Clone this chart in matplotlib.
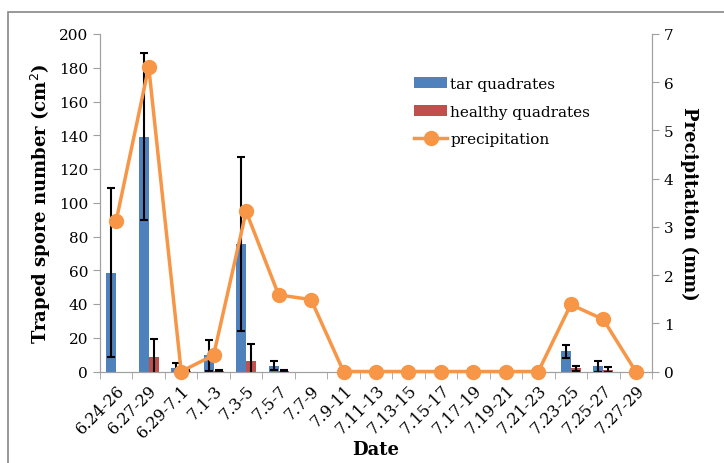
import matplotlib.pyplot as plt
from matplotlib.patches import Rectangle
import numpy as np

dates = ['6.24-26', '6.27-29', '6.29-7.1', '7.1-3', '7.3-5', '7.5-7', '7.7-9',
         '7.9-11', '7.11-13', '7.13-15', '7.15-17', '7.17-19', '7.19-21',
         '7.21-23', '7.23-25', '7.25-27', '7.27-29']
tar = [58.6, 139, 2, 9.5, 75.5, 3.5, 0, 0, 0, 0, 0, 0, 0, 0, 12, 3, 0]
tar_err = [50, 49.5, 3, 9, 51.5, 2.5, 0, 0, 0, 0, 0, 0, 0, 0, 4, 3.5, 0]
healthy = [0, 8.3, 0.3, 0.5, 6.3, 0.5, 0, 0, 0, 0, 0, 0, 0, 0, 2, 1, 0]
healthy_err = [0, 11, 0.3, 0.5, 10, 0.3, 0, 0, 0, 0, 0, 0, 0, 0, 1.5, 1.5, 0]
precip = [3.13, 6.32, 0, 0.34, 3.32, 1.59, 1.49, 0, 0, 0, 0, 0, 0, 0, 1.39, 1.08, 0]

plt.rcParams['font.family'] = ['DejaVu Serif']
gray = '#a0a0a0'

fig = plt.figure(figsize=(7.24, 4.64), dpi=100)
fig.patches.append(Rectangle((8 / 724, -0.1), 1.2, 1.1 - 13 / 464,
                             transform=fig.transFigure, fill=False,
                             edgecolor='#888888', linewidth=1.2))
ax = fig.add_axes([100 / 724, 91.5 / 464, 552 / 724, 337.5 / 464])
x = np.arange(len(dates))
w = 0.31
b1 = ax.bar(x - w / 2, tar, w, color='#4F81BD', label='tar quadrates')
b2 = ax.bar(x + w / 2, healthy, w, color='#C0504D', label='healthy quadrates')

# error bars only where there is something to show
for off, vals, errs in [(-w / 2, tar, tar_err), (w / 2, healthy, healthy_err)]:
    idx = [i for i in range(len(vals)) if errs[i] > 0]
    ax.errorbar(x[idx] + off, [vals[i] for i in idx], yerr=[errs[i] for i in idx],
                fmt='none', ecolor='black', elinewidth=1.5, capsize=3, capthick=1.5)

ax.set_xlim(-0.5, len(dates) - 0.5)
ax.set_ylim(0, 200)
ax.set_yticks(range(0, 201, 20))
ax.set_xticks(x)
ax.set_xticklabels(dates, rotation=45, ha='right', rotation_mode='anchor', fontsize=11.5)
ax.set_xticks(np.arange(-0.5, len(dates)), minor=True)
ax.tick_params(axis='x', which='major', length=0, pad=7)
ax.tick_params(axis='x', which='minor', length=5, color=gray)
ax.tick_params(axis='y', length=5, color=gray, labelsize=11)
ax.set_ylabel('Traped spore number (cm$^2$)', fontsize=13, fontweight='bold')
ax.spines['top'].set_visible(False)
for s in ['left', 'bottom', 'right']:
    ax.spines[s].set_color(gray)
fig.text((100 + 276) / 724, 1 - 450 / 464, 'Date', ha='center', va='center',
         fontsize=13, fontweight='bold')

ax2 = ax.twinx()
l1, = ax2.plot(x, precip, color='#F79646', linewidth=2.5, marker='o',
               markersize=10, label='precipitation', clip_on=False, zorder=5)
ax2.set_ylim(0, 7)
ax2.set_yticks(range(0, 8))
ax2.tick_params(axis='y', length=5, color=gray, labelsize=11)
ax2.set_ylabel('Precipitation (mm)', fontsize=13, fontweight='bold',
               rotation=270, labelpad=18)
ax2.spines['top'].set_visible(False)
for s in ['left', 'bottom', 'right']:
    ax2.spines[s].set_color(gray)

fig.legend([b1, b2, l1], ['tar quadrates', 'healthy quadrates', 'precipitation'],
           loc='upper left', bbox_to_anchor=(400 / 724, 1 - 64 / 464),
           frameon=False, fontsize=11, handlelength=2.2, handletextpad=0.2,
           labelspacing=0.9)

plt.savefig('out.png', dpi=100)
